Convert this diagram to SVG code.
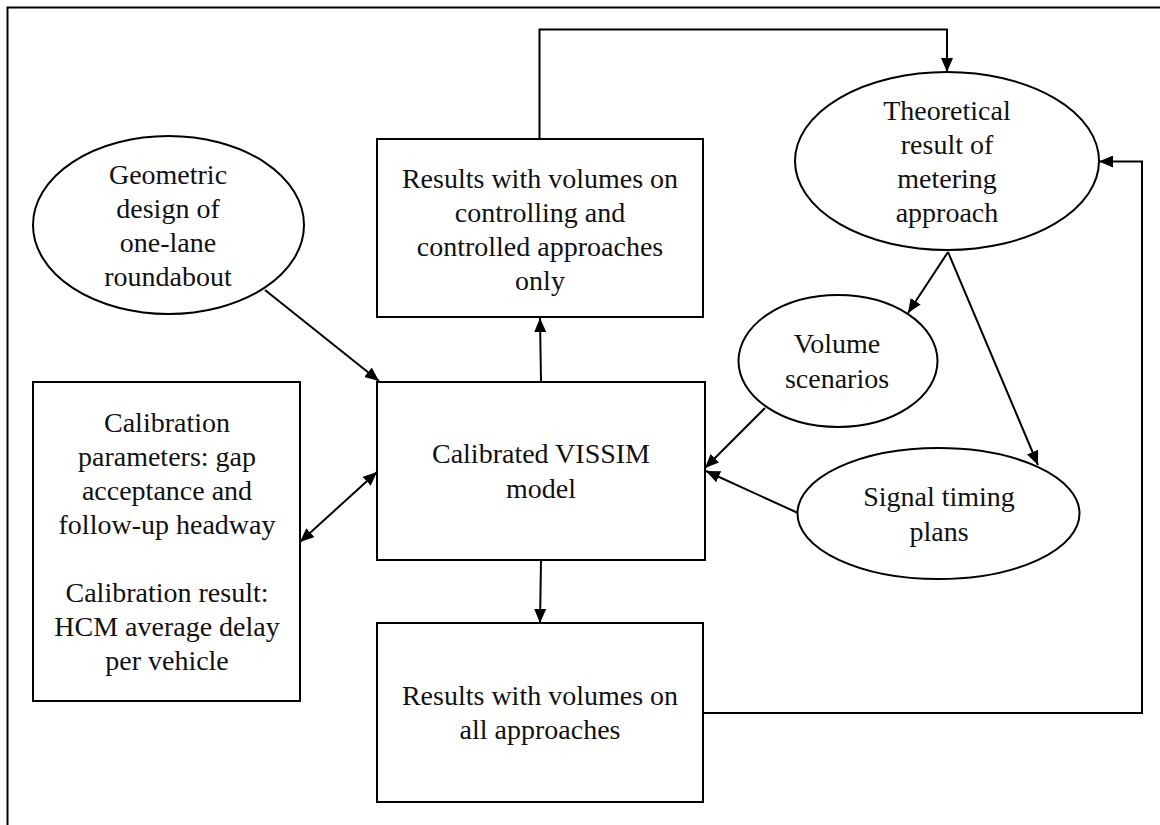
<svg xmlns="http://www.w3.org/2000/svg" width="1160" height="825" viewBox="0 0 1160 825">
<style>
.n{fill:#fff;stroke:#000;stroke-width:2}
.t{font-family:"Liberation Serif","Times New Roman",serif;font-size:28px;fill:#111;text-anchor:middle}
.c{fill:none;stroke:#000;stroke-width:2}
</style>
<defs>
<marker id="ah" viewBox="0 0 14 12" refX="14" refY="6" markerWidth="14" markerHeight="12" markerUnits="userSpaceOnUse" orient="auto-start-reverse">
<path d="M0,0 L14,6 L0,12 Z" fill="#000"/>
</marker>
</defs>
<rect width="1160" height="825" fill="#fff"/>
<path d="M7.5,825 V7.5 H1160" fill="none" stroke="#000" stroke-width="2"/>
<g id="connectors">
<path class="c" d="M265,290 L379,381" marker-end="url(#ah)"/>
<path class="c" d="M300,542 L377,472" marker-start="url(#ah)" marker-end="url(#ah)"/>
<path class="c" d="M541,382 L540,318" marker-end="url(#ah)"/>
<path class="c" d="M541,560 L540,623" marker-end="url(#ah)"/>
<path class="c" d="M539.5,139 V29.5 H947 V72" marker-end="url(#ah)"/>
<path class="c" d="M703,713 H1142 V161.5 H1099" marker-end="url(#ah)"/>
<path class="c" d="M948,252 L908,313" marker-end="url(#ah)"/>
<path class="c" d="M948,252 L1038,465" marker-end="url(#ah)"/>
<path class="c" d="M765,408 L705,468" marker-end="url(#ah)"/>
<path class="c" d="M798,513 L706,471" marker-end="url(#ah)"/>
</g>
<g id="geometric">
<ellipse class="n" cx="168.5" cy="225" rx="135.5" ry="89"/>
<text class="t" x="168" y="184">Geometric</text>
<text class="t" x="168" y="218">design of</text>
<text class="t" x="168" y="252">one-lane</text>
<text class="t" x="168" y="286">roundabout</text>
</g>
<g id="results-controlled">
<rect class="n" x="377" y="139" width="326" height="178"/>
<text class="t" x="540" y="188">Results with volumes on</text>
<text class="t" x="540" y="222">controlling and</text>
<text class="t" x="540" y="256">controlled approaches</text>
<text class="t" x="540" y="290">only</text>
</g>
<g id="theoretical">
<ellipse class="n" cx="947" cy="161" rx="152" ry="89"/>
<text class="t" x="947" y="120">Theoretical</text>
<text class="t" x="947" y="154">result of</text>
<text class="t" x="947" y="188">metering</text>
<text class="t" x="947" y="222">approach</text>
</g>
<g id="volume">
<ellipse class="n" cx="838" cy="361" rx="99.5" ry="66"/>
<text class="t" x="837" y="353">Volume</text>
<text class="t" x="837" y="388">scenarios</text>
</g>
<g id="calibration">
<rect class="n" x="33" y="382" width="267" height="319"/>
<text class="t" x="167" y="432">Calibration</text>
<text class="t" x="167" y="466">parameters: gap</text>
<text class="t" x="167" y="500">acceptance and</text>
<text class="t" x="167" y="534">follow-up headway</text>
<text class="t" x="167" y="602">Calibration result:</text>
<text class="t" x="167" y="636">HCM average delay</text>
<text class="t" x="167" y="670">per vehicle</text>
</g>
<g id="calibrated">
<rect class="n" x="377" y="382" width="328" height="178"/>
<text class="t" x="541" y="463">Calibrated VISSIM</text>
<text class="t" x="541" y="498">model</text>
</g>
<g id="signal">
<ellipse class="n" cx="938.5" cy="513.5" rx="141" ry="65.5"/>
<text class="t" x="939" y="506">Signal timing</text>
<text class="t" x="939" y="541">plans</text>
</g>
<g id="results-all">
<rect class="n" x="377" y="623" width="326" height="179"/>
<text class="t" x="540" y="705">Results with volumes on</text>
<text class="t" x="540" y="739">all approaches</text>
</g>
</svg>
